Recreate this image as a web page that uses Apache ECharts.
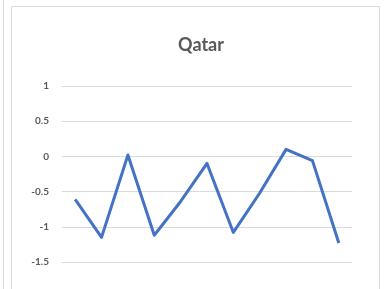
<!DOCTYPE html>
<html>
<head>
<meta charset="utf-8">
<script src="https://cdn.jsdelivr.net/npm/echarts@6/dist/echarts.min.js"></script>
<style>
  html, body { margin: 0; padding: 0; background: #fff; }
  #main { width: 384px; height: 289px; }
</style>
</head>
<body>
<div id="main"></div>
<script>
// data
var categories = ['1', '2', '3', '4', '5', '6', '7', '8', '9', '10', '11'];
var qatar = [-0.61, -1.15, 0.02, -1.12, -0.64, -0.10, -1.08, -0.52, 0.10, -0.06, -1.23];
var yTicks = { min: -1.5, max: 1, interval: 0.5 };

var myChart = echarts.init(document.getElementById('main'));

var option = {
  animation: false,
  backgroundColor: '#ffffff',
  title: {
    text: 'Qatar',
    left: 196,
    top: 31,
    textAlign: 'center',
    textStyle: { fontFamily: 'Lato', fontWeight: 'bold', fontSize: 18, color: '#595959' }
  },
  graphic: [
    { type: 'line', shape: { x1: 3.5, y1: 0, x2: 3.5, y2: 289 }, style: { stroke: '#d9d9d9', lineWidth: 1 } },
    { type: 'rect', shape: { x: 11.5, y: 6.5, width: 368, height: 300 }, style: { fill: 'none', stroke: '#d9d9d9', lineWidth: 1 } }
  ],
  grid: { left: 62, right: 32, top: 86, bottom: 27 },
  xAxis: {
    type: 'category',
    data: categories,
    boundaryGap: true,
    axisLine: { show: false },
    axisTick: { show: false },
    axisLabel: { show: false }
  },
  yAxis: {
    type: 'value',
    min: yTicks.min,
    max: yTicks.max,
    interval: yTicks.interval,
    axisLine: { show: false },
    axisTick: { show: false },
    axisLabel: { fontFamily: 'Lato', fontWeight: 'bold', fontSize: 10, color: '#595959', margin: 13 },
    splitLine: { lineStyle: { color: '#d9d9d9', width: 1 } }
  },
  series: [
    {
      name: 'Qatar',
      type: 'line',
      data: qatar,
      symbol: 'none',
      lineStyle: { color: '#4472c4', width: 3, join: 'round' }
    }
  ]
};

myChart.setOption(option);
</script>
</body>
</html>
